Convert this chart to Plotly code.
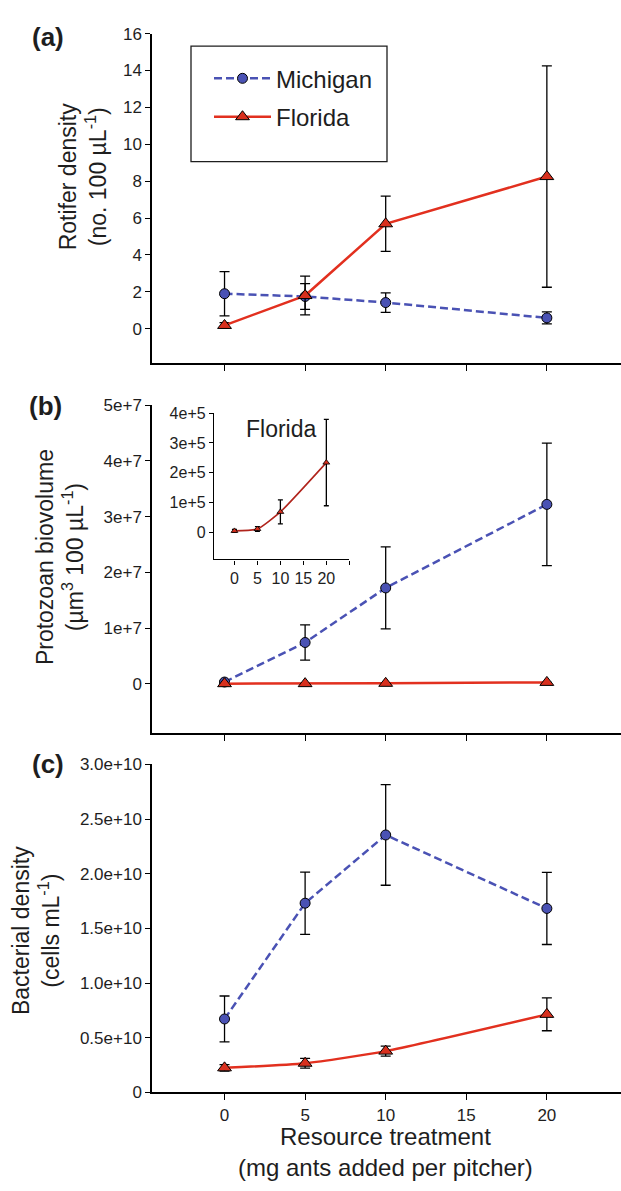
import plotly.graph_objects as go

# resource treatment (mg ants added per pitcher)
treatment = [0, 5, 10, 20]

# (a) rotifer density, no. 100 uL-1
rotifer_mi = [1.90, 1.75, 1.42, 0.59]
rotifer_mi_se = [1.20, 0.70, 0.53, 0.33]
rotifer_fl = [0.18, 1.80, 5.69, 8.25]
rotifer_fl_se = [0.15, 1.05, 1.50, 6.00]

# (b) protozoan biovolume, um3 100 uL-1
proto_mi = [3.0e5, 7.4e6, 1.72e7, 3.22e7]
proto_mi_se = [2.0e5, 3.15e6, 7.36e6, 1.10e7]
proto_fl = [4.6e3, 1.1e4, 6.85e4, 2.34e5]
proto_fl_se = [5.0e3, 8.0e3, 4.0e4, 1.45e5]

# (c) bacterial density, cells mL-1
bact_mi = [0.672e10, 1.731e10, 2.355e10, 1.683e10]
bact_mi_se = [0.21e10, 0.285e10, 0.46e10, 0.33e10]
bact_fl = [0.225e10, 0.267e10, 0.378e10, 0.714e10]
bact_fl_se = [0.03e10, 0.045e10, 0.045e10, 0.15e10]

x_ticks = [0, 5, 10, 15, 20]
rot_ticks = [0, 2, 4, 6, 8, 10, 12, 14, 16]
proto_ticks = [0, 1e7, 2e7, 3e7, 4e7, 5e7]
proto_labels = ["0", "1e+7", "2e+7", "3e+7", "4e+7", "5e+7"]
inset_ticks = [0, 1e5, 2e5, 3e5, 4e5]
inset_labels = ["0", "1e+5", "2e+5", "3e+5", "4e+5"]
bact_ticks = [0, 0.5e10, 1.0e10, 1.5e10, 2.0e10, 2.5e10, 3.0e10]
bact_labels = ["0", "0.5e+10", "1.0e+10", "1.5e+10", "2.0e+10", "2.5e+10", "3.0e+10"]

W, H = 621, 1191
FONT = "Liberation Sans, Arial, sans-serif"
INK = "#1e1e1e"
BLUE = "#4a52b4"
RED = "#e2301f"
RED_FILL = "#d8301e"


def px(x):
    return x / W


def py(y):
    return 1 - y / H


def err(vals, w=5):
    return dict(type="data", array=vals, color="black", thickness=1.3, width=w)


def michigan(y, e, xa, ya, show=False):
    return go.Scatter(
        x=treatment, y=y, error_y=err(e), xaxis=xa, yaxis=ya,
        mode="lines+markers", name="Michigan", showlegend=show, legend="legend",
        line=dict(color=BLUE, width=2.5, dash="8px,4px"),
        marker=dict(symbol="circle", size=10, color=BLUE, line=dict(color="black", width=1)),
    )


def florida(y, e, xa, ya, show=False, shape="linear"):
    return go.Scatter(
        x=treatment, y=y, error_y=err(e), xaxis=xa, yaxis=ya,
        mode="lines+markers", name="Florida", showlegend=show, legend="legend2",
        line=dict(color=RED, width=2.5, shape=shape, smoothing=0.6),
        marker=dict(symbol="triangle-up", size=12, color=RED_FILL, line=dict(color="black", width=1)),
    )


fig = go.Figure()
fig.add_trace(michigan(rotifer_mi, rotifer_mi_se, "x", "y", show=True))
fig.add_trace(florida(rotifer_fl, rotifer_fl_se, "x", "y", show=True))
fig.add_trace(michigan(proto_mi, proto_mi_se, "x2", "y2"))
fig.add_trace(florida(proto_fl, [0, 0, 0, 0], "x2", "y2"))
fig.add_trace(michigan(bact_mi, bact_mi_se, "x3", "y3"))
fig.add_trace(florida(bact_fl, bact_fl_se, "x3", "y3", shape="spline"))

# inset: Florida protozoan biovolume
fig.add_trace(go.Scatter(
    x=treatment, y=proto_fl, error_y=err(proto_fl_se, w=2.5), xaxis="x4", yaxis="y4",
    mode="lines+markers", showlegend=False,
    line=dict(color="#b0241c", width=1.6, shape="spline", smoothing=0.5),
    marker=dict(symbol="triangle-up", size=6, color=RED_FILL, line=dict(color="black", width=0.8)),
))

xdom = [px(152), 1.0]
xbase = dict(
    domain=xdom, range=[-4.5, 24.6], showline=True, linecolor="black", linewidth=1.5,
    ticks="outside", ticklen=6, tickwidth=1.3, tickcolor="black", tickvals=x_ticks,
    showgrid=False, zeroline=False, tickfont=dict(family=FONT, size=17, color=INK),
)
ybase = dict(
    showline=True, linecolor="black", linewidth=1.5, ticks="outside", ticklen=5,
    tickwidth=1.3, tickcolor="black", showgrid=False, zeroline=False,
    tickfont=dict(family=FONT, size=17, color=INK),
)

fig.update_layout(
    width=W, height=H, margin=dict(l=0, r=0, t=0, b=0),
    paper_bgcolor="white", plot_bgcolor="white",
    font=dict(family=FONT, color=INK),
    xaxis=dict(xbase, anchor="y", showticklabels=False),
    xaxis2=dict(xbase, anchor="y2", showticklabels=False),
    xaxis3=dict(xbase, anchor="y3"),
    yaxis=dict(ybase, domain=[py(360), py(25)], range=[-1.87, 16], tickvals=rot_ticks, anchor="x"),
    yaxis2=dict(ybase, domain=[py(736), py(402.7)], range=[-0.89e7, 5e7],
                tickvals=proto_ticks, ticktext=proto_labels, anchor="x2"),
    yaxis3=dict(ybase, domain=[py(1101), py(767.7)], range=[0, 3e10],
                tickvals=bact_ticks, ticktext=bact_labels, anchor="x3"),
    xaxis4=dict(xbase, domain=[px(214), px(349.3)], range=[-4.45, 25], anchor="y4",
                tickvals=x_ticks + [25], ticktext=["0", "5", "10", "15", "20", ""],
                ticklen=4, linewidth=1.3, tickfont=dict(family=FONT, size=16, color=INK)),
    yaxis4=dict(ybase, domain=[py(559.3), py(410.7)], range=[-0.91e5, 4e5], anchor="x4",
                tickvals=inset_ticks, ticktext=inset_labels, ticklen=4, linewidth=1.3,
                tickfont=dict(family=FONT, size=16, color=INK)),
    legend=dict(x=px(209), y=py(48), xanchor="left", yanchor="top", itemwidth=57,
                bgcolor="rgba(0,0,0,0)", font=dict(family=FONT, size=24, color=INK)),
    legend2=dict(x=px(209), y=py(87), xanchor="left", yanchor="top", itemwidth=57,
                 bgcolor="rgba(0,0,0,0)", font=dict(family=FONT, size=24, color=INK)),
)

# legend frame
fig.add_shape(type="rect", xref="paper", yref="paper",
              x0=px(191), x1=px(387), y0=py(155), y1=py(37.7),
              line=dict(color=INK, width=1.3))

annotations = [
    dict(text="<b>(a)</b>", x=px(48), y=py(28), size=26, angle=0),
    dict(text="<b>(b)</b>", x=px(45), y=py(403), size=26, angle=0),
    dict(text="<b>(c)</b>", x=px(48), y=py(767), size=26, angle=0),
    dict(text="Rotifer density<br>(no. 100 µL<sup>-1</sup>)", x=px(83), y=py(170), size=23, angle=-90),
    dict(text="Protozoan biovolume<br>(µm<sup>3</sup> 100 µL<sup>-1</sup>)", x=px(60), y=py(557), size=23, angle=-90),
    dict(text="Bacterial density<br>(cells mL<sup>-1</sup>)", x=px(36), y=py(937), size=23, angle=-90),
    dict(text="Resource treatment<br>(mg ants added per pitcher)", x=px(385), y=py(1162), size=24, angle=0),
    dict(text="Florida", x=px(281), y=py(427), size=23, angle=0),
]
for a in annotations:
    fig.add_annotation(text=a["text"], x=a["x"], y=a["y"], xref="paper", yref="paper",
                       showarrow=False, textangle=a["angle"], xanchor="center", yanchor="middle",
                       font=dict(family=FONT, size=a["size"], color=INK))

# drop the default page margin so the figure sits at the window origin
fig.write_html("out.html", config={"displayModeBar": False},
               post_script="document.body.style.margin='0';")
